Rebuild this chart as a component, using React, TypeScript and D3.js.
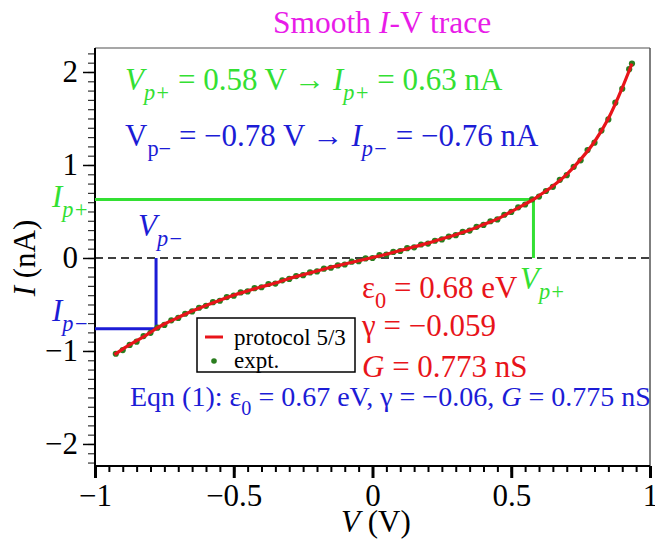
import { useEffect, useRef } from 'react';
import * as d3 from 'd3';

// fitted trace (protocol 5/3)
const fitV = [-0.93, -0.9, -0.85, -0.8, -0.78, -0.75, -0.7, -0.65, -0.6, -0.55, -0.5, -0.45, -0.4, -0.35, -0.3, -0.25, -0.2, -0.15, -0.1, -0.05, 0, 0.05, 0.1, 0.15, 0.2, 0.25, 0.3, 0.35, 0.4, 0.45, 0.5, 0.55, 0.58, 0.6, 0.65, 0.7, 0.75, 0.8, 0.85, 0.9, 0.935];
const fitI = [-1.04, -0.98, -0.89, -0.8, -0.76, -0.71, -0.64, -0.57, -0.51, -0.455, -0.4, -0.355, -0.31, -0.27, -0.22, -0.18, -0.14, -0.1, -0.065, -0.03, 0.005, 0.04, 0.08, 0.12, 0.16, 0.205, 0.25, 0.3, 0.36, 0.42, 0.5, 0.58, 0.63, 0.67, 0.775, 0.9, 1.06, 1.25, 1.5, 1.83, 2.09];

// measured points
const exptV = [-0.925, -0.9, -0.875, -0.85, -0.825, -0.8, -0.775, -0.75, -0.725, -0.7, -0.675, -0.65, -0.625, -0.6, -0.575, -0.55, -0.525, -0.5, -0.475, -0.45, -0.425, -0.4, -0.375, -0.35, -0.325, -0.3, -0.275, -0.25, -0.225, -0.2, -0.175, -0.15, -0.125, -0.1, -0.075, -0.05, -0.025, 0, 0.025, 0.05, 0.075, 0.1, 0.125, 0.15, 0.175, 0.2, 0.225, 0.25, 0.275, 0.3, 0.325, 0.35, 0.375, 0.4, 0.425, 0.45, 0.475, 0.5, 0.525, 0.55, 0.575, 0.6, 0.625, 0.65, 0.675, 0.7, 0.725, 0.75, 0.775, 0.8, 0.825, 0.85, 0.875, 0.9, 0.925, 0.935];
const exptI = [-1.03, -0.99, -0.935, -0.9, -0.84, -0.805, -0.75, -0.72, -0.67, -0.645, -0.6, -0.575, -0.535, -0.515, -0.475, -0.46, -0.42, -0.405, -0.37, -0.36, -0.325, -0.315, -0.28, -0.275, -0.24, -0.225, -0.195, -0.185, -0.155, -0.145, -0.115, -0.105, -0.08, -0.07, -0.04, -0.035, -0.005, 0.0, 0.03, 0.035, 0.065, 0.075, 0.105, 0.115, 0.145, 0.155, 0.185, 0.2, 0.23, 0.245, 0.28, 0.295, 0.335, 0.355, 0.395, 0.415, 0.465, 0.495, 0.545, 0.575, 0.63, 0.66, 0.72, 0.765, 0.84, 0.89, 0.98, 1.05, 1.16, 1.24, 1.37, 1.49, 1.67, 1.82, 2.03, 2.09];

const xMajor = [-1, -0.5, 0, 0.5, 1];
const yMajor = [-2, -1, 0, 1, 2];
const xMinor = d3.range(-20, 21).map((k) => k / 20);
const yMinor = d3.range(-22, 23).map((k) => k / 10);

const vPlus = 0.58;
const iPlus = 0.63;
const vMinus = -0.78;
const iMinus = -0.76;

const GREEN = '#33e033';
const BLUE = '#1c1cd6';
const RED = '#e8141a';
const MAGENTA = '#e81ce8';
const DOT = '#2a7d1e';
const FONT = 'Liberation Serif, DejaVu Serif, serif';

type Seg = { t: string; it?: boolean; sub?: boolean };

function richText(g: any, x: number, y: number, size: number, color: string, segs: Seg[]) {
    const text = g.append('text').attr('x', x).attr('y', y).style('font-family', FONT)
        .style('font-size', `${size}px`).attr('fill', color);
    const shift = size * 0.32;
    let down = false;
    segs.forEach((s) => {
        const ts = text.append('tspan').text(s.t);
        if (s.it) ts.style('font-style', 'italic');
        if (s.sub) {
            ts.style('font-size', `${size * 0.72}px`);
            if (!down) ts.attr('dy', shift);
            down = true;
        } else if (down) {
            ts.attr('dy', -shift);
            down = false;
        }
    });
    return text;
}

export default function App() {
    const svgRef = useRef<SVGSVGElement>(null);
    const width = 655;
    const height = 539;

    useEffect(() => {
        if (!svgRef.current) return;
        d3.select(svgRef.current).selectAll('*').remove();

        const svg = d3.select(svgRef.current);
        const left = 95, right = 650, top = 48, bottom = 466;

        const x = d3.scaleLinear().domain([-1, 1]).range([left, right]);
        const y = d3.scaleLinear().domain([-2.237, 2.258]).range([bottom, top]);

        svg.append('rect').attr('width', width).attr('height', height).attr('fill', 'white');

        // title
        richText(svg, 273, 33, 31.5, MAGENTA, [{ t: 'Smooth ' }, { t: 'I', it: true }, { t: '-V trace' }]);

        // frame: top/right grey, axes black
        svg.append('line').attr('x1', left).attr('x2', right).attr('y1', top).attr('y2', top)
            .attr('stroke', '#8a8a8a').attr('stroke-width', 1.5);
        svg.append('line').attr('x1', right).attr('x2', right).attr('y1', top).attr('y2', bottom)
            .attr('stroke', '#555').attr('stroke-width', 1.5);

        const fmt = (d: any) => (d < 0 ? '\u2212' : '') + Math.abs(d);

        // y axis
        svg.append('g').attr('transform', `translate(${left},0)`)
            .call(d3.axisLeft(y).tickValues(yMinor).tickSize(7).tickFormat(() => ''))
            .call((g) => g.select('.domain').remove())
            .selectAll('line').attr('stroke', '#333').attr('stroke-width', 1.2);
        const ya = svg.append('g').attr('transform', `translate(${left},0)`)
            .call(d3.axisLeft(y).tickValues(yMajor).tickSize(12).tickPadding(5).tickFormat(fmt));
        ya.select('.domain').attr('d', `M0,${top}V${bottom}`).attr('stroke', '#000').attr('stroke-width', 2);
        ya.selectAll('.tick line').attr('stroke-width', 1.5);
        ya.selectAll('text').attr('fill', '#000').style('font-family', FONT).style('font-size', '31px');

        // x axis
        svg.append('g').attr('transform', `translate(0,${bottom})`)
            .call(d3.axisBottom(x).tickValues(xMinor).tickSize(6).tickFormat(() => ''))
            .call((g) => g.select('.domain').remove())
            .selectAll('line').attr('stroke', '#000').attr('stroke-width', 2);
        const xa = svg.append('g').attr('transform', `translate(0,${bottom})`)
            .call(d3.axisBottom(x).tickValues(xMajor).tickSize(12).tickPadding(6).tickFormat(fmt));
        xa.select('.domain').attr('d', `M${left},0H${right}`).attr('stroke', '#000').attr('stroke-width', 2);
        xa.selectAll('.tick line').attr('stroke-width', 3);
        xa.selectAll('text').attr('fill', '#000').style('font-family', FONT).style('font-size', '31px');

        // axis labels
        richText(svg, 341, 532, 31, '#000', [{ t: 'V', it: true }, { t: ' (V)' }]);
        const yl = richText(svg, 0, 0, 31, '#000', [{ t: 'I', it: true }, { t: ' (nA)' }]);
        yl.attr('text-anchor', 'middle').attr('transform', `translate(35,${y(0)}) rotate(-90)`);

        // zero line
        svg.append('line').attr('x1', left).attr('x2', right).attr('y1', y(0)).attr('y2', y(0))
            .attr('stroke', '#000').attr('stroke-width', 1.5).attr('stroke-dasharray', '8,5');

        // peak markers
        svg.append('path').attr('fill', 'none').attr('stroke', GREEN).attr('stroke-width', 3)
            .attr('d', `M${left},${y(iPlus)}H${x(vPlus)}V${y(0)}`);
        svg.append('path').attr('fill', 'none').attr('stroke', BLUE).attr('stroke-width', 3)
            .attr('d', `M${left},${y(iMinus)}H${x(vMinus)}V${y(0)}`);

        // expt points
        svg.append('g').selectAll('circle').data(exptV).enter().append('circle')
            .attr('cx', (d) => x(d)).attr('cy', (_d, i) => y(exptI[i])).attr('r', 3.1).attr('fill', DOT);

        // fit line
        const line = d3.line<number>().x((d) => x(d)).y((_d, i) => y(fitI[i])).curve(d3.curveMonotoneX);
        svg.append('path').datum(fitV).attr('fill', 'none').attr('stroke', RED).attr('stroke-width', 3.2)
            .attr('d', line);

        // annotations
        richText(svg, 125, 90, 31, GREEN, [
            { t: 'V', it: true }, { t: 'p+', it: true, sub: true }, { t: ' = 0.58 V \u2192 ' },
            { t: 'I', it: true }, { t: 'p+', it: true, sub: true }, { t: ' = 0.63 nA' },
        ]);
        richText(svg, 125, 146, 31, BLUE, [
            { t: 'V' }, { t: 'p\u2212', sub: true }, { t: ' = \u22120.78 V \u2192 ' },
            { t: 'I', it: true }, { t: 'p\u2212', it: true, sub: true }, { t: ' = \u22120.76 nA' },
        ]);
        richText(svg, 52, 207, 31, GREEN, [{ t: 'I', it: true }, { t: 'p+', it: true, sub: true }]);
        richText(svg, 52, 321, 31, BLUE, [{ t: 'I', it: true }, { t: 'p\u2212', it: true, sub: true }]);
        richText(svg, 138, 236, 31, BLUE, [{ t: 'V', it: true }, { t: 'p\u2212', it: true, sub: true }]);
        richText(svg, 520, 289, 31, GREEN, [{ t: 'V', it: true }, { t: 'p+', it: true, sub: true }]);

        richText(svg, 362, 298, 31, RED, [{ t: '\u03b5' }, { t: '0', sub: true }, { t: ' = 0.68 eV' }]);
        richText(svg, 362, 336, 31, RED, [{ t: '\u03b3 = \u22120.059' }]);
        richText(svg, 362, 377, 31, RED, [{ t: 'G', it: true }, { t: ' = 0.773 nS' }]);
        richText(svg, 130, 406, 28, BLUE, [
            { t: 'Eqn (1): \u03b5' }, { t: '0', sub: true }, { t: ' = 0.67 eV, \u03b3 = \u22120.06, ' },
            { t: 'G', it: true }, { t: ' = 0.775 nS' },
        ]);

        // legend
        const lg = svg.append('g');
        lg.append('rect').attr('x', 197).attr('y', 318).attr('width', 158).attr('height', 54)
            .attr('fill', 'white').attr('stroke', '#000').attr('stroke-width', 1.5);
        lg.append('line').attr('x1', 205).attr('x2', 223).attr('y1', 337).attr('y2', 337)
            .attr('stroke', RED).attr('stroke-width', 3);
        lg.append('circle').attr('cx', 214).attr('cy', 361).attr('r', 2.8).attr('fill', DOT);
        richText(lg, 234, 345, 23, '#000', [{ t: 'protocol 5/3' }]);
        richText(lg, 234, 368, 23, '#000', [{ t: 'expt.' }]);
    }, []);

    return (
        <svg ref={svgRef} width={width} height={height} style={{ position: 'absolute', left: 0, top: 0 }} />
    );
}
